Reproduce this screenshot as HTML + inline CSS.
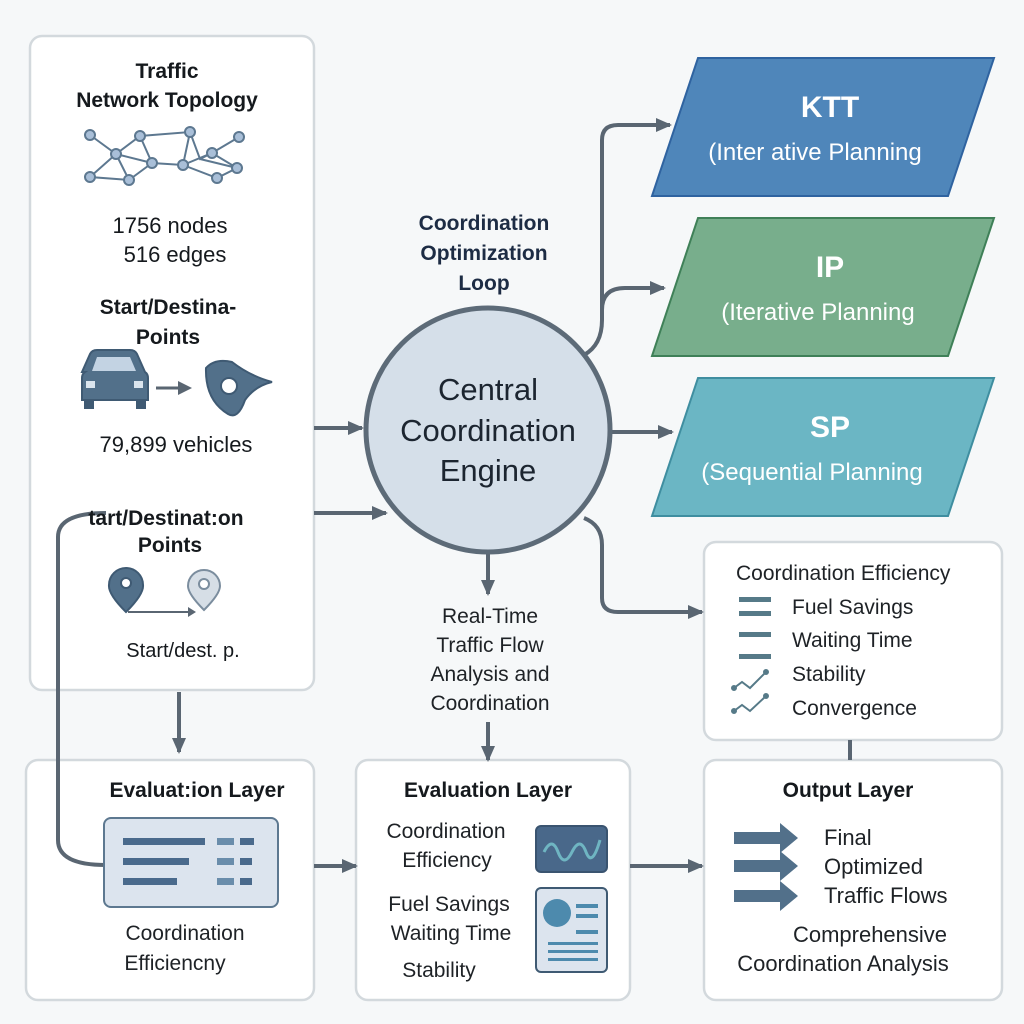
<!DOCTYPE html>
<html><head><meta charset="utf-8"><style>
html,body{margin:0;padding:0;background:#f6f8f9;}
svg{display:block;font-family:"Liberation Sans",sans-serif;}
</style></head><body>
<svg width="1024" height="1024" viewBox="0 0 1024 1024" xmlns="http://www.w3.org/2000/svg">
<defs>
<marker id="ah" markerWidth="16" markerHeight="16" refX="14" refY="8" orient="auto" markerUnits="userSpaceOnUse"><path d="M0,1 L16,8 L0,15z" fill="#5a6672"/></marker>
</defs>
<rect width="1024" height="1024" fill="#f6f8f9"/>
<g fill="#fff" stroke="#d3d9dd" stroke-width="2.5">
<rect x="30" y="36" width="284" height="654" rx="12"/>
<rect x="26" y="760" width="288" height="240" rx="12"/>
<rect x="356" y="760" width="274" height="240" rx="12"/>
<rect x="704" y="760" width="298" height="240" rx="12"/>
<rect x="704" y="542" width="298" height="198" rx="12"/>
</g>
<!-- connectors -->
<g stroke="#5a6672" stroke-width="4" fill="none" marker-end="url(#ah)">
<path d="M314,428 H362"/>
<path d="M314,513 H386"/>
<path d="M584,355 Q602,345 602,320 V140 Q602,125 618,125 H670"/>
<path d="M602,310 Q602,288 625,288 H664"/>
<path d="M610,432 H672"/>
<path d="M584,518 Q602,525 602,545 V598 Q602,612 618,612 H702"/>
<path d="M488,552 V594"/>
<path d="M488,722 V760"/>
<path d="M179,692 V752"/>
<path d="M314,866 H356"/>
<path d="M630,866 H702"/>
<path d="M106,513 Q58,513 58,537 V840 Q58,865 106,865" marker-end="none"/>
<path d="M850,740 V760" marker-end="none"/>
</g>
<!-- parallelograms -->
<polygon points="698,58 994,58 948,196 652,196" fill="#4f86ba" stroke="#2f63a0" stroke-width="2"/>
<polygon points="698,218 994,218 948,356 652,356" fill="#78ae8c" stroke="#3f8058" stroke-width="2"/>
<polygon points="698,378 994,378 948,516 652,516" fill="#6bb6c4" stroke="#3f8ea0" stroke-width="2"/>
<g fill="#fff" text-anchor="middle">
<text x="830" y="117" font-size="30" font-weight="bold">KTT</text>
<text x="815" y="160" font-size="24">(Inter ative Planning</text>
<text x="830" y="277" font-size="30" font-weight="bold">IP</text>
<text x="818" y="320" font-size="24">(Iterative Planning</text>
<text x="830" y="437" font-size="30" font-weight="bold">SP</text>
<text x="812" y="480" font-size="24">(Sequential Planning</text>
</g>
<!-- circle -->
<circle cx="488" cy="430" r="122" fill="#d5dfe9" stroke="#5d6b78" stroke-width="5"/>
<g text-anchor="middle" fill="#1c2530" font-size="31">
<text x="488" y="400">Central</text>
<text x="488" y="441">Coordination</text>
<text x="488" y="481">Engine</text>
</g>
<g text-anchor="middle" fill="#1d2c44" font-size="21" font-weight="bold">
<text x="484" y="230">Coordination</text>
<text x="484" y="260">Optimization</text>
<text x="484" y="290">Loop</text>
</g>
<g text-anchor="middle" fill="#1e2226" font-size="21">
<text x="490" y="623">Real-Time</text>
<text x="490" y="652">Traffic Flow</text>
<text x="490" y="681">Analysis and</text>
<text x="490" y="710">Coordination</text>
</g>
<!-- left box text -->
<g text-anchor="middle" fill="#15191d">
<text x="167" y="78" font-size="21" font-weight="bold">Traffic</text>
<text x="167" y="107" font-size="21" font-weight="bold">Network Topology</text>
<text x="170" y="233" font-size="22">1756 nodes</text>
<text x="175" y="262" font-size="22">516 edges</text>
<text x="168" y="314" font-size="21" font-weight="bold">Start/Destina-</text>
<text x="168" y="344" font-size="21" font-weight="bold">Points</text>
<text x="176" y="452" font-size="22">79,899 vehicles</text>
<text x="166" y="525" font-size="21" font-weight="bold">tart/Destinat:on</text>
<text x="170" y="552" font-size="21" font-weight="bold">Points</text>
<text x="183" y="657" font-size="20">Start/dest. p.</text>
</g>
<!-- network -->
<g transform="translate(0,22)">
<g stroke="#5d7890" stroke-width="2" fill="none">
<path d="M90,113 L116,132 L140,114 L190,110 L200,137 L212,131 L239,115 M116,132 L90,155 L129,158 L152,141 L116,132 M140,114 L152,141 L183,143 L190,110 M183,143 L217,156 L237,146 L212,131 L183,143 M200,137 L237,146 M129,158 L116,132"/>
</g>
<g fill="#a9bfd8" stroke="#5d7890" stroke-width="2">
<circle cx="90" cy="113" r="5"/><circle cx="140" cy="114" r="5"/><circle cx="190" cy="110" r="5"/><circle cx="239" cy="115" r="5"/>
<circle cx="116" cy="132" r="5"/><circle cx="152" cy="141" r="5"/><circle cx="183" cy="143" r="5"/><circle cx="212" cy="131" r="5"/>
<circle cx="90" cy="155" r="5"/><circle cx="129" cy="158" r="5"/><circle cx="217" cy="156" r="5"/><circle cx="237" cy="146" r="5"/>
</g>
</g>
<!-- car -->
<g>
<path d="M82,372 L90,354 Q92,350 97,350 L130,350 Q135,350 137,354 L145,372 Q148,374 148,378 L148,400 L82,400 L82,378 Q82,374 85,372z" fill="#52708a" stroke="#3f5a73" stroke-width="2"/>
<path d="M92,371 L97,357 L130,357 L136,371z" fill="#c3d3e3"/>
<rect x="86" y="381" width="9" height="7" fill="#dbe5ee"/><rect x="134" y="381" width="9" height="7" fill="#dbe5ee"/>
<rect x="84" y="400" width="10" height="9" fill="#3f5a73"/><rect x="136" y="400" width="10" height="9" fill="#3f5a73"/>
<path d="M156,388 H180" stroke="#5a6672" stroke-width="3"/><path d="M178,381 L192,388 L178,395z" fill="#5a6672"/>
<path d="M206,368 Q215,358 232,362 Q250,376 272,382 Q255,386 245,400 Q238,420 228,414 Q205,400 206,368z" fill="#52708a" stroke="#3f5a73" stroke-width="2"/>
<circle cx="229" cy="386" r="8" fill="#fff" stroke="#3f5a73" stroke-width="2"/>
</g>
<!-- pins -->
<path d="M126,612 Q108,594 109,585 A17,17 0 1 1 143,585 Q144,594 126,612z" fill="#52708a" stroke="#3f5a73" stroke-width="2"/>
<circle cx="126" cy="583" r="5" fill="#fff" stroke="#3f5a73" stroke-width="2"/>
<path d="M204,610 Q188,594 188,586 A16,16 0 1 1 220,586 Q220,594 204,610z" fill="#d6dee6" stroke="#7b8d9e" stroke-width="2"/>
<circle cx="204" cy="584" r="5" fill="#fff" stroke="#7b8d9e" stroke-width="2"/>
<path d="M128,612 H190" stroke="#5a6672" stroke-width="2"/><path d="M188,607 L196,612 L188,617z" fill="#5a6672"/>
<!-- metrics box -->
<g fill="#1e2226" font-size="21">
<text x="736" y="580">Coordination Efficiency</text>
<text x="792" y="614">Fuel Savings</text>
<text x="792" y="647">Waiting Time</text>
<text x="792" y="681">Stability</text>
<text x="792" y="715">Convergence</text>
</g>
<g fill="#567a88">
<rect x="739" y="597" width="32" height="5"/><rect x="739" y="611" width="32" height="5"/>
<rect x="739" y="632" width="32" height="5"/><rect x="739" y="654" width="32" height="5"/>
</g>
<g stroke="#567a88" stroke-width="2" fill="#567a88">
<path d="M734,688 L742,682 L750,688 L766,672" fill="none"/><circle cx="734" cy="688" r="2"/><circle cx="766" cy="672" r="2"/>
<path d="M734,711 L742,705 L750,711 L766,696" fill="none"/><circle cx="734" cy="711" r="2"/><circle cx="766" cy="696" r="2"/>
</g>
<!-- eval 1 -->
<text x="197" y="797" text-anchor="middle" font-size="21" font-weight="bold" fill="#15191d">Evaluat:ion Layer</text>
<rect x="104" y="818" width="174" height="89" rx="7" fill="#dce4ee" stroke="#5d7890" stroke-width="2"/>
<g fill="#4a6a8c">
<rect x="123" y="838" width="82" height="7"/><rect x="123" y="858" width="66" height="7"/><rect x="123" y="878" width="54" height="7"/>
<rect x="217" y="838" width="17" height="7" fill="#6a8dab"/><rect x="240" y="838" width="14" height="7"/>
<rect x="217" y="858" width="17" height="7" fill="#6a8dab"/><rect x="240" y="858" width="12" height="7"/>
<rect x="217" y="878" width="17" height="7" fill="#6a8dab"/><rect x="240" y="878" width="12" height="7"/>
</g>
<g text-anchor="middle" font-size="21" fill="#1e2226">
<text x="185" y="940">Coordination</text><text x="175" y="970">Efficiencny</text>
</g>
<!-- eval 2 -->
<text x="488" y="797" text-anchor="middle" font-size="21" font-weight="bold" fill="#15191d">Evaluation Layer</text>
<g text-anchor="middle" font-size="21" fill="#1e2226">
<text x="446" y="838">Coordination</text><text x="447" y="867">Efficiency</text>
<text x="449" y="911">Fuel Savings</text><text x="451" y="940">Waiting Time</text><text x="439" y="977">Stability</text>
</g>
<rect x="536" y="826" width="71" height="46" rx="5" fill="#49688a" stroke="#3a5470" stroke-width="2"/>
<path d="M544,852 Q552,836 558,852 T572,852 T586,852 T600,840" stroke="#6fb5c2" stroke-width="3" fill="none"/>
<rect x="536" y="888" width="71" height="84" rx="5" fill="#dce4ee" stroke="#3f5a73" stroke-width="2"/>
<circle cx="557" cy="913" r="14" fill="#4d8aad"/>
<g fill="#4d8aad"><rect x="576" y="904" width="22" height="4"/><rect x="576" y="914" width="22" height="4"/><rect x="576" y="930" width="22" height="4"/>
<rect x="548" y="942" width="50" height="3"/><rect x="548" y="950" width="50" height="3"/><rect x="548" y="958" width="50" height="3"/></g>
<!-- output -->
<text x="848" y="797" text-anchor="middle" font-size="21" font-weight="bold" fill="#15191d">Output Layer</text>
<g fill="#52708a">
<path d="M734,832 H780 V823 L798,838 L780,853 V844 H734z"/>
<path d="M734,860 H780 V851 L798,866 L780,881 V872 H734z"/>
<path d="M734,890 H780 V881 L798,896 L780,911 V902 H734z"/>
</g>
<g font-size="22" fill="#1e2226">
<text x="824" y="845">Final</text><text x="824" y="874">Optimized</text><text x="824" y="903">Traffic Flows</text>
</g>
<g text-anchor="middle" font-size="22" fill="#1e2226">
<text x="870" y="942">Comprehensive</text><text x="843" y="971">Coordination Analysis</text>
</g>
</svg>
</body></html>
